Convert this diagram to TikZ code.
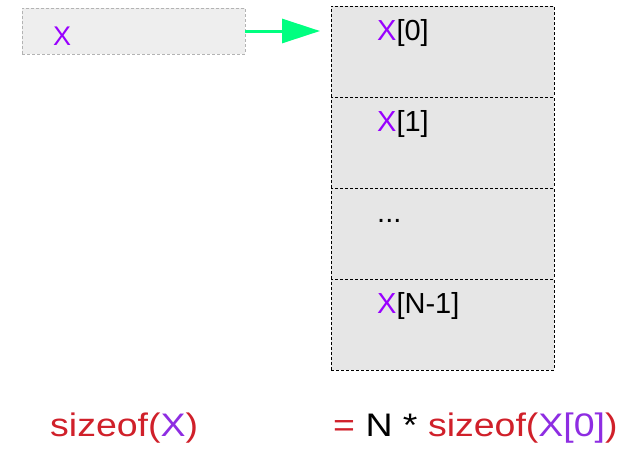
\documentclass[tikz,border=0pt]{standalone}
\usepackage{fontspec}
\setmainfont{Liberation Sans}
\newfontfamily\stretchfont[FakeStretch=1.15]{Liberation Sans}
\usetikzlibrary{arrows.meta,positioning}
\definecolor{memgray}{HTML}{E6E6E6}
\definecolor{boxgray}{HTML}{EEEEEE}
\definecolor{boxedge}{HTML}{B3B3B3}
\definecolor{pointergreen}{HTML}{00FF80}
\definecolor{namepurple}{HTML}{9900FF}
\definecolor{exprpurple}{HTML}{8E2DE2}
\definecolor{exprred}{HTML}{D0202A}

\begin{document}
\begin{tikzpicture}[x=1pt,y=-1pt,
    cellbox/.style={draw=black, fill=memgray, dash pattern=on 3pt off 2pt, line width=0.7pt,
        minimum width=223pt, minimum height=91pt, inner sep=0pt, outer sep=0pt},
    celltext/.style={font=\fontsize{29}{34}\selectfont, anchor=base west, inner sep=0pt},
    exprtext/.style={font=\stretchfont\fontsize{32.6}{38}\selectfont, anchor=base west, inner sep=0pt, text=exprred}]
    \useasboundingbox (0,0) rectangle (632,448);

    % Pointer box
    \node[draw=boxedge, fill=boxgray, dash pattern=on 3pt off 2pt, line width=0.7pt,
        minimum width=223pt, minimum height=46pt, inner sep=0pt, outer sep=0pt, anchor=north west] (xbox) at (22,8) {};
    \node[celltext, font=\fontsize{27}{32}\selectfont, text=namepurple] (xname) at (53,45) {X};

    % Array cells
    \node[cellbox, anchor=north west] (cell0) at (331,6) {};
    \foreach \i/\j in {1/0,2/1,3/2}
        \node[cellbox, below=0pt of cell\j] (cell\i) {};

    % Cell labels
    \foreach \i/\txt in {0/{\textcolor{namepurple}{X}[0]},1/{\textcolor{namepurple}{X}[1]},2/{...},3/{\textcolor{namepurple}{X}[N-1]}}
        \node[celltext] (label\i) at ([xshift=46pt,yshift=-34pt]cell\i.north west) {\txt};

    % Arrow
    \coordinate (xtip) at (320,31);
    \draw[pointergreen, line width=3pt, -{Triangle[length=38pt,width=24pt]}] (xbox.east) -- (xtip);

    % Sizes
    \node[exprtext] (sizeofx) at (50,436) {sizeof(\textcolor{exprpurple}{X})};
    \node[exprtext] (sizeofelem) at (333,436) {= \textcolor{black}{N *} sizeof(\textcolor{exprpurple}{X[0]})};
\end{tikzpicture}
\end{document}
